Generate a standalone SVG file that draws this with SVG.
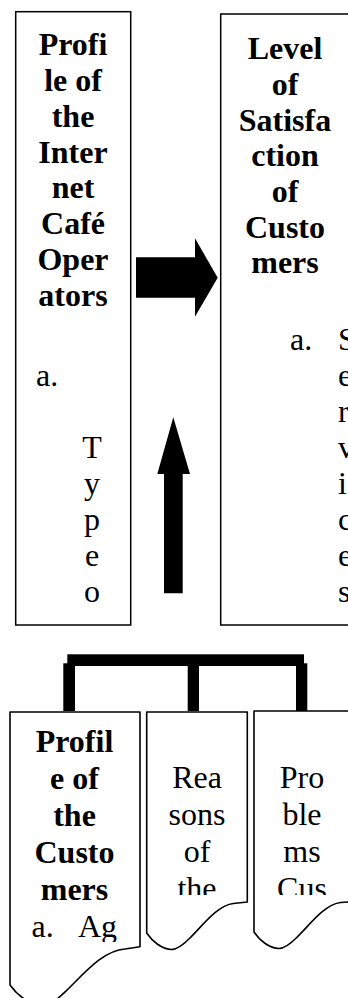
<svg xmlns="http://www.w3.org/2000/svg" width="348" height="998" viewBox="0 0 348 998">
<style>
.box{fill:#fff;stroke:#000;stroke-width:1.5}
.doc{fill:#fff;stroke:#000;stroke-width:1.6;stroke-linejoin:round}
.conn{fill:#000;stroke:none}
text{font-family:"Liberation Serif","Times New Roman",serif;font-size:32px;fill:#000}
.b{font-weight:bold;text-anchor:middle}
.n{font-weight:normal}
.c{text-anchor:middle}
</style>
<defs>
<clipPath id="clipL"><rect x="10" y="712" width="130" height="230"/></clipPath>
<clipPath id="clipM"><rect x="146" y="712" width="102" height="183"/></clipPath>
<clipPath id="clipR"><rect x="254" y="711" width="100" height="184"/></clipPath>
</defs>

<g id="operators">
<rect class="box" x="15.7" y="11.7" width="115" height="613.3"/>
<text class="b" x="73"><tspan x="73" y="55">Profi</tspan><tspan x="73" y="90.9">le of</tspan><tspan x="73" y="126.7">the</tspan><tspan x="73" y="162.6">Inter</tspan><tspan x="73" y="198.4">net</tspan><tspan x="73" y="234.3">Café</tspan><tspan x="73" y="270.2">Oper</tspan><tspan x="73" y="306">ators</tspan></text>
<text class="n" x="36" y="386">a.</text>
<text class="n c"><tspan x="92" y="458">T</tspan><tspan x="92" y="494">y</tspan><tspan x="92" y="530">p</tspan><tspan x="92" y="566">e</tspan><tspan x="92" y="602">o</tspan></text>
</g>

<g id="satisfaction">
<rect class="box" x="220.7" y="14" width="140" height="611"/>
<text class="b"><tspan x="285" y="59">Level</tspan><tspan x="285" y="95">of</tspan><tspan x="285" y="130.5">Satisfa</tspan><tspan x="285" y="166">ction</tspan><tspan x="285" y="202">of</tspan><tspan x="285" y="237.5">Custo</tspan><tspan x="285" y="273">mers</tspan></text>
<text class="n" x="290" y="350">a.</text>
<text class="n"><tspan x="338" y="350">S</tspan><tspan x="338" y="386">e</tspan><tspan x="338" y="422">r</tspan><tspan x="338" y="458">v</tspan><tspan x="338" y="494">i</tspan><tspan x="338" y="530">c</tspan><tspan x="338" y="566">e</tspan><tspan x="338" y="602">s</tspan></text>
</g>

<g id="connectors">
<polygon class="conn" points="136,257.3 195,257.3 195,238.3 217.7,277.7 195,316.7 195,297.7 136,297.7"/>
<polygon class="conn" points="173.3,417.3 190,474 182.7,474 182.7,593.3 164,593.3 164,474 157.3,474"/>
<rect class="conn" x="67.3" y="654.3" width="236.7" height="11.7"/>
<rect class="conn" x="63.3" y="663.3" width="11.7" height="47.7"/>
<rect class="conn" x="187.7" y="665" width="11.3" height="46"/>
<rect class="conn" x="296" y="663.3" width="11.3" height="47.7"/>
</g>

<g id="customers">
<path class="doc" d="M10,712 H140 V946.7 L125,949 C102.2,950.5 82.8,975.1 65.9,991.1 C55.5,1001 50.5,1005.4 42.4,1005.4 C29.8,1005.4 16.9,994.9 10,985 Z"/>
<g clip-path="url(#clipL)">
<text class="b"><tspan x="74.5" y="751.7">Profil</tspan><tspan x="74.5" y="788.7">e of</tspan><tspan x="74.5" y="825.7">the</tspan><tspan x="74.5" y="862.7">Custo</tspan><tspan x="74.5" y="899.7">mers</tspan></text>
<text class="n"><tspan x="31.5" y="936.5">a.</tspan><tspan x="78" y="936.5">Ag</tspan></text>
</g>
</g>

<g id="reasons">
<path class="doc" d="M146.7,712 H247.3 V902 L233.3,903.5 C218,905 203,925 190,938 C182,946 176,949.5 171.7,949.5 C162,949.5 152,941 146.7,933 Z"/>
<g clip-path="url(#clipM)">
<text class="n c"><tspan x="197" y="788">Rea</tspan><tspan x="197" y="825">sons</tspan><tspan x="197" y="862">of</tspan><tspan x="197" y="899">the</tspan></text>
</g>
</g>

<g id="problems">
<path class="doc" d="M254,711 H360 V901 L340.6,902.5 C325.3,904 310.3,924 297.3,937 C289.3,945 283.3,948.5 279,948.5 C269.3,948.5 259.3,940 254,932 Z"/>
<g clip-path="url(#clipR)">
<text class="n c"><tspan x="302" y="788">Pro</tspan><tspan x="302" y="825">ble</tspan><tspan x="302" y="862">ms</tspan><tspan x="302" y="899">Cus</tspan></text>
</g>
</g>
</svg>
